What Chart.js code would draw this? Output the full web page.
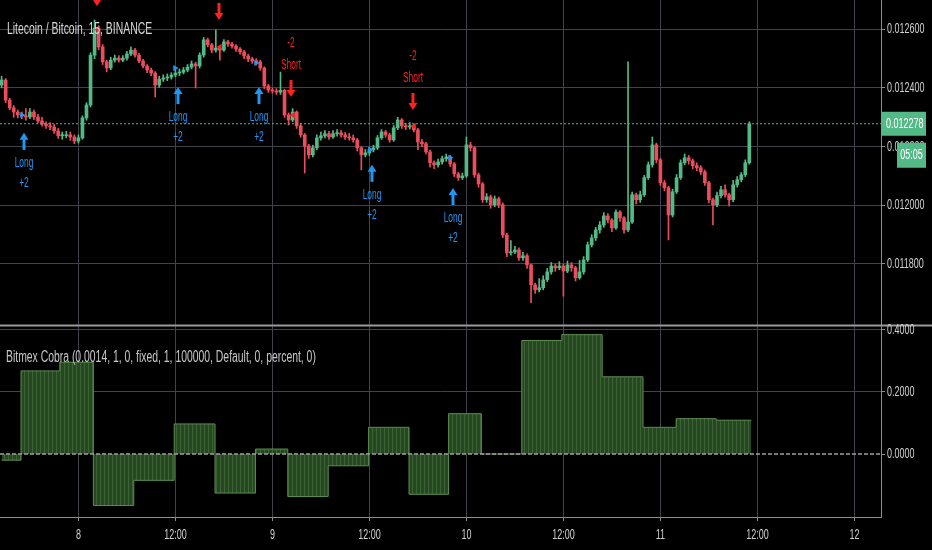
<!DOCTYPE html>
<html>
<head>
<meta charset="utf-8">
<script src="https://cdn.jsdelivr.net/npm/chart.js"></script>
<style>
html,body{margin:0;padding:0;background:#000;}
#wrap{width:932px;height:550px;position:relative;background:#000;}
</style>
</head>
<body>
<div id="wrap"><canvas id="c" width="932" height="550"></canvas></div>
<script>
// ---------- data ----------
const CANDLE_START = 14.5;   // hours after day 7 00:00
const CANDLE_STEP = 0.5;     // 30-minute candles
const PRICE_UNIT = 1e-6;     // prices below are in millionths of BTC

const opens = [
12410,12427,12359,12332,12318,12308,12305,12301,12318,12301,
12288,12277,12271,12267,12254,12237,12237,12240,12233,12219,
12230,12298,12342,12512,12604,12540,12489,12468,12495,12502,
12495,12502,12516,12529,12512,12492,12475,12461,12451,12410,
12430,12434,12437,12444,12451,12454,12461,12471,12482,12475,
12512,12564,12547,12529,12536,12529,12557,12550,12543,12533,
12523,12509,12499,12492,12489,12468,12407,12393,12390,12386,
12392,12308,12291,12318,12271,12240,12202,12172,12196,12230,
12237,12244,12233,12244,12247,12240,12233,12230,12223,12196,
12172,12179,12189,12196,12230,12250,12240,12223,12264,12291,
12271,12267,12271,12257,12216,12210,12182,12145,12138,12148,
12159,12165,12141,12107,12094,12100,12206,12196,12104,12073,
12019,12029,12002,12022,12002,11899,11838,11841,11848,11821,
11828,11797,11729,11712,11719,11746,11773,11793,11787,11793,
11776,11797,11787,11753,11773,11814,11865,11889,11916,11933,
11964,11950,11923,11977,11957,11916,11943,12036,12019,12036,
12094,12138,12206,12155,12077,12060,11967,12046,12094,12145,
12162,12152,12135,12128,12114,12077,12019,12002,12033,12053,
12036,12019,12070,12087,12104,12145];

const highs = [
12440,12432,12365,12340,12325,12318,12330,12330,12325,12310,
12300,12285,12282,12275,12262,12250,12252,12250,12240,12240,
12305,12350,12520,12632,12612,12548,12495,12505,12512,12510,
12510,12525,12540,12535,12518,12498,12480,12468,12456,12440,
12445,12448,12452,12462,12465,12470,12480,12492,12488,12520,
12572,12570,12552,12598,12545,12565,12562,12556,12548,12538,
12528,12515,12505,12500,12495,12472,12412,12400,12398,12454,
12396,12315,12330,12322,12278,12245,12208,12205,12240,12250,
12255,12252,12255,12258,12255,12248,12245,12240,12228,12200,
12190,12198,12205,12238,12258,12255,12246,12272,12300,12296,
12280,12282,12278,12262,12225,12215,12188,12152,12158,12168,
12175,12170,12146,12112,12110,12233,12215,12200,12110,12078,
12040,12035,12032,12028,12008,11905,11880,11860,11855,11840,
11835,11800,11735,11750,11760,11785,11805,11800,11808,11800,
11810,11805,11792,11812,11825,11875,11900,11925,11945,11975,
11972,11955,11985,11982,11962,12489,12045,12042,12048,12102,
12148,12233,12212,12160,12085,12065,12055,12105,12155,12175,
12170,12158,12145,12135,12120,12082,12025,12045,12065,12070,
12042,12085,12098,12112,12155,12285];

const lows = [
12400,12350,12325,12300,12298,12295,12290,12295,12292,12280,
12270,12262,12258,12245,12228,12225,12230,12222,12210,12212,
12225,12290,12335,12500,12530,12480,12455,12462,12488,12488,
12490,12495,12510,12505,12485,12468,12452,12442,12369,12402,
12422,12425,12430,12438,12442,12448,12455,12465,12400,12468,
12505,12540,12520,12522,12495,12525,12542,12536,12525,12515,
12500,12490,12484,12478,12460,12398,12385,12382,12378,12378,
12300,12274,12285,12262,12232,12110,12160,12165,12190,12222,
12230,12225,12228,12236,12232,12225,12222,12215,12185,12121,
12165,12170,12182,12190,12225,12232,12215,12218,12258,12262,
12258,12260,12250,12190,12200,12175,12130,12125,12130,12140,
12150,12132,12098,12085,12088,12095,12185,12095,12062,12010,
12010,11990,11995,11992,11890,11825,11830,11835,11812,11812,
11785,11668,11700,11705,11712,11740,11765,11775,11780,11690,
11770,11775,11742,11748,11765,11808,11858,11880,11905,11925,
11940,11910,11918,11945,11905,11910,11938,12005,12010,12030,
12088,12130,12145,12068,12050,11882,11960,12040,12088,12138,
12140,12125,12118,12105,12068,12008,11933,11995,12025,12028,
11998,12012,12062,12080,12098,12140];

const closes = [
12427,12359,12332,12318,12308,12305,12301,12318,12301,12288,
12277,12271,12267,12254,12237,12237,12240,12233,12219,12230,
12298,12342,12512,12604,12540,12489,12468,12495,12502,12495,
12502,12516,12529,12512,12492,12475,12461,12451,12410,12430,
12434,12437,12444,12451,12454,12461,12471,12482,12475,12512,
12564,12547,12529,12536,12529,12557,12550,12543,12533,12523,
12509,12499,12492,12489,12468,12407,12393,12390,12386,12392,
12308,12291,12318,12271,12240,12202,12172,12196,12230,12237,
12244,12233,12244,12247,12240,12233,12230,12223,12196,12172,
12179,12189,12196,12230,12250,12240,12223,12264,12291,12271,
12267,12271,12257,12216,12210,12182,12145,12138,12148,12159,
12165,12141,12107,12094,12100,12206,12196,12104,12073,12019,
12029,12002,12022,12002,11899,11838,11841,11848,11821,11828,
11797,11729,11712,11719,11746,11773,11793,11787,11793,11776,
11797,11787,11753,11773,11814,11865,11889,11916,11933,11964,
11950,11923,11977,11957,11916,11943,12036,12019,12036,12094,
12138,12206,12155,12077,12060,11967,12046,12094,12145,12162,
12152,12135,12128,12114,12077,12019,12002,12033,12053,12036,
12019,12070,12087,12104,12145,12278];

const xTickHours  = [24, 36, 48, 60, 72, 84, 96, 108, 120];
const xTickLabels = ['8', '12:00', '9', '12:00', '10', '12:00', '11', '12:00', '12'];
const priceTicks = [0.0118, 0.0120, 0.0122, 0.0124, 0.0126];
const indicatorTicks = [0.4, 0.2, 0];

// Bitmex Cobra step histogram: segment start (hours) and value
const histStarts = [14.5, 16.9, 21.7, 25.85, 30.85, 35.85, 40.9, 45.9, 49.9, 54.9,
                    59.9, 64.9, 69.8, 73.85, 78.85, 83.8, 88.8, 93.85, 97.95, 102.9];
const histValues = [-0.02, 0.268, 0.296, -0.166, -0.085, 0.097, -0.126, 0.016, -0.137, -0.038,
                    0.086, -0.130, 0.130, 0.0, 0.366, 0.385, 0.249, 0.086, 0.114, 0.109];
const histEnd = 107.25;

const lastPrice = 0.012278;
const countdownText = '05:05';

const longTimes  = [17.27, 36.32, 46.34, 60.32, 70.34];
const longPrices = [12247, 12403, 12403, 12138, 12059];
const shortTimes  = [26.30, 41.39, 50.30, 65.39];
const shortPrices = [12679, 12632, 12369, 12325];
const longMarkTimes  = [17.02, 35.95, 45.97, 60.07, 69.97];
const longMarkPrices = [12308, 12468, 12485, 12189, 12162];
const shortMarkTimes  = [26.4, 41.5, 50.55, 65.52];
const shortMarkPrices = [12600, 12540, 12308, 12270];

const titleText = 'Litecoin / Bitcoin, 15, BINANCE';
const indicatorText = 'Bitmex Cobra (0.0014, 1, 0, fixed, 1, 100000, Default, 0, percent, 0)';

// ---------- styles ----------
const X_MIN = 14.30, X_MAX = 123.29;
const P_MIN = 0.011592, P_MAX = 0.01269988;
const I_MIN = -0.2032, I_MAX = 0.4161;
const UP = '#53b987', DOWN = '#eb4d5c';
const GRID = '#41434c';
const AXIS = '#8c8c8c';
const LABEL = '#d0d0d0';
const BLUE = '#2196f3', RED = '#ff2020';

const canvas = document.getElementById('c');
const mainCtx = canvas.getContext('2d');

function stripePattern() {
  const c = document.createElement('canvas');
  c.width = 4; c.height = 4;
  const g = c.getContext('2d');
  g.fillStyle = '#284624'; g.fillRect(0, 0, 4, 4);
  g.fillStyle = '#3a6433'; g.fillRect(0, 0, 1, 4);
  return mainCtx.createPattern(c, 'repeat');
}

const times = closes.map((_, i) => CANDLE_START + i * CANDLE_STEP);
const candleColors = closes.map((c, i) => c >= opens[i] ? UP : DOWN);
const wickData = times.map((t, i) => ({x: t, y: [lows[i] * PRICE_UNIT, highs[i] * PRICE_UNIT]}));
const bodyData = times.map((t, i) => ({x: t, y: [opens[i] * PRICE_UNIT, closes[i] * PRICE_UNIT]}));
const histData = histStarts.map((t, k) => ({x: t, y: histValues[k]}));
histData.push({x: histEnd, y: histValues[histValues.length - 1]});

function ctext(ctx, str, x, y, size, sx, color, align) {
  ctx.save();
  ctx.font = size + 'px "Liberation Sans", Arial, sans-serif';
  ctx.fillStyle = color;
  ctx.textBaseline = 'middle';
  ctx.textAlign = 'left';
  const w = ctx.measureText(str).width * sx;
  const x0 = align === 'center' ? x - w / 2 : (align === 'right' ? x - w : x);
  ctx.translate(x0, y);
  ctx.scale(sx, 1);
  ctx.fillText(str, 0, 0);
  ctx.restore();
}

function upArrow(ctx, x, y, color) {
  ctx.fillStyle = color;
  ctx.beginPath();
  ctx.moveTo(x, y); ctx.lineTo(x - 4.5, y + 7); ctx.lineTo(x + 4.5, y + 7); ctx.closePath();
  ctx.fill();
  ctx.fillRect(x - 1.5, y + 6, 3, 11);
}
function downArrow(ctx, x, y, color) {
  ctx.fillStyle = color;
  ctx.beginPath();
  ctx.moveTo(x, y); ctx.lineTo(x - 4.5, y - 7); ctx.lineTo(x + 4.5, y - 7); ctx.closePath();
  ctx.fill();
  ctx.fillRect(x - 1.5, y - 17, 3, 11);
}

const AX_SIZE = 15, AX_SX = 0.6;
const SIG_SIZE = 14, SIG_SX = 0.6;

const overlay = {
  id: 'tvOverlay',
  afterDatasetsDraw(chart) {
    const ctx = chart.ctx;
    const xs = chart.scales.x, yP = chart.scales.yP;
    ctx.save();
    ctx.beginPath();
    ctx.rect(chart.chartArea.left, yP.top, chart.chartArea.right - chart.chartArea.left, yP.bottom - yP.top);
    ctx.clip();
    longTimes.forEach((t, k) => {
      const px = xs.getPixelForValue(t), py = yP.getPixelForValue(longPrices[k] * PRICE_UNIT);
      upArrow(ctx, px, py, BLUE);
      ctext(ctx, 'Long', px, py + 30, SIG_SIZE, SIG_SX, BLUE, 'center');
      ctext(ctx, '+2', px, py + 50, SIG_SIZE, SIG_SX, BLUE, 'center');
    });
    shortTimes.forEach((t, k) => {
      const px = xs.getPixelForValue(t), py = yP.getPixelForValue(shortPrices[k] * PRICE_UNIT);
      downArrow(ctx, px, py, RED);
      ctext(ctx, 'Short', px, py - 32, SIG_SIZE, SIG_SX, RED, 'center');
      ctext(ctx, '-2', px, py - 54, SIG_SIZE, SIG_SX, RED, 'center');
    });
    ctx.restore();
  },
  afterDraw(chart) {
    const ctx = chart.ctx;
    const xs = chart.scales.x, yP = chart.scales.yP, yI = chart.scales.yI;
    const ca = chart.chartArea;
    // pane separator
    ctx.save();
    ctx.fillStyle = '#9a9a9a';
    ctx.fillRect(0, yP.bottom - 0.5, chart.width, 2);
    ctx.restore();
    // axis labels
    priceTicks.forEach(v => ctext(ctx, v.toFixed(6), ca.right + 6, yP.getPixelForValue(v), AX_SIZE, AX_SX, LABEL, 'left'));
    indicatorTicks.forEach(v => ctext(ctx, v.toFixed(4), ca.right + 6, yI.getPixelForValue(v), AX_SIZE, AX_SX, LABEL, 'left'));
    xTickHours.forEach((h, k) => ctext(ctx, xTickLabels[k], xs.getPixelForValue(h), 535, AX_SIZE, AX_SX, LABEL, 'center'));
    // titles
    ctext(ctx, titleText, 7, 30, 16, 0.65, '#d8d8d8', 'left');
    ctext(ctx, indicatorText, 6, 358, 16, 0.65, '#c8c8c8', 'left');
    // last price box + countdown
    const ly = yP.getPixelForValue(lastPrice);
    ctx.save();
    ctx.fillStyle = UP;
    ctx.fillRect(ca.right, ly - 12, 45, 24);
    ctx.fillRect(ca.right + 16, ly + 19, 29, 25);
    ctx.restore();
    ctext(ctx, lastPrice.toFixed(6), ca.right + 5, ly, AX_SIZE, AX_SX, '#ffffff', 'left');
    ctext(ctx, countdownText, ca.right + 30.5, ly + 31.5, AX_SIZE, AX_SX, '#ffffff', 'center');
  }
};

const chart = new Chart(canvas, {
  type: 'bar',
  data: {
    datasets: [
      {
        type: 'line', label: 'zero', yAxisID: 'yI', xAxisID: 'x',
        data: [{x: X_MIN, y: 0}, {x: X_MAX, y: 0}],
        borderColor: '#a0a0a0', borderWidth: 1.5, borderDash: [4, 2],
        pointRadius: 0, order: 0
      },
      {
        type: 'line', label: 'last', yAxisID: 'yP', xAxisID: 'x',
        data: [{x: X_MIN, y: lastPrice}, {x: X_MAX, y: lastPrice}],
        borderColor: UP, borderWidth: 1, borderDash: [2, 2],
        pointRadius: 0, order: 0
      },
      {
        type: 'scatter', label: 'longMarks', yAxisID: 'yP', xAxisID: 'x',
        data: longMarkTimes.map((t, k) => ({x: t, y: longMarkPrices[k] * PRICE_UNIT})),
        pointStyle: 'triangle', rotation: 90, radius: 3.5,
        backgroundColor: BLUE, borderColor: BLUE, borderWidth: 0, order: 0
      },
      {
        type: 'scatter', label: 'shortMarks', yAxisID: 'yP', xAxisID: 'x',
        data: shortMarkTimes.map((t, k) => ({x: t, y: shortMarkPrices[k] * PRICE_UNIT})),
        pointStyle: 'triangle', rotation: 270, radius: 3.5,
        backgroundColor: RED, borderColor: RED, borderWidth: 0, order: 0
      },
      {
        type: 'bar', label: 'bodies', yAxisID: 'yP', xAxisID: 'x',
        data: bodyData, backgroundColor: candleColors, borderWidth: 0,
        barThickness: 3, minBarLength: 1, grouped: false, order: 1
      },
      {
        type: 'bar', label: 'wicks', yAxisID: 'yP', xAxisID: 'x',
        data: wickData, backgroundColor: candleColors, borderWidth: 0,
        barThickness: 1, grouped: false, order: 2
      },
      {
        type: 'line', label: 'Bitmex Cobra', yAxisID: 'yI', xAxisID: 'x',
        data: histData, stepped: true, fill: 'origin',
        backgroundColor: stripePattern(), borderColor: '#5b8f50', borderWidth: 1,
        pointRadius: 0, order: 5
      }
    ]
  },
  options: {
    responsive: false,
    animation: false,
    events: [],
    layout: {padding: 0, autoPadding: false},
    plugins: {legend: {display: false}, tooltip: {enabled: false}, title: {display: false}},
    scales: {
      x: {
        type: 'linear', position: 'bottom', min: X_MIN, max: X_MAX, offset: false,
        afterBuildTicks: s => { s.ticks = xTickHours.map(v => ({value: v})); },
        afterFit: s => { s.height = 33; },
        ticks: {display: false},
        grid: {offset: false, color: GRID, lineWidth: 1, drawTicks: true, tickLength: 4, tickColor: AXIS},
        border: {display: true, color: AXIS, width: 1}
      },
      yP: {
        type: 'linear', position: 'right', stack: 'panes', stackWeight: 325, weight: 1,
        min: P_MIN, max: P_MAX, offset: false,
        afterBuildTicks: s => { s.ticks = priceTicks.map(v => ({value: v})); },
        afterFit: s => { s.width = 51; },
        ticks: {display: false},
        grid: {offset: false, color: GRID, lineWidth: 1, drawTicks: true, tickLength: 4, tickColor: AXIS},
        border: {display: true, color: AXIS, width: 1}
      },
      yI: {
        type: 'linear', position: 'right', stack: 'panes', stackWeight: 192, weight: 2,
        min: I_MIN, max: I_MAX, offset: false,
        afterBuildTicks: s => { s.ticks = indicatorTicks.map(v => ({value: v})); },
        afterFit: s => { s.width = 51; },
        ticks: {display: false},
        grid: {
          offset: false,
          color: c => (c.tick && c.tick.value === 0) ? 'rgba(0,0,0,0)' : GRID,
          lineWidth: 1, drawTicks: true, tickLength: 4, tickColor: AXIS
        },
        border: {display: true, color: AXIS, width: 1}
      }
    }
  },
  plugins: [overlay]
});
</script>
</body>
</html>
